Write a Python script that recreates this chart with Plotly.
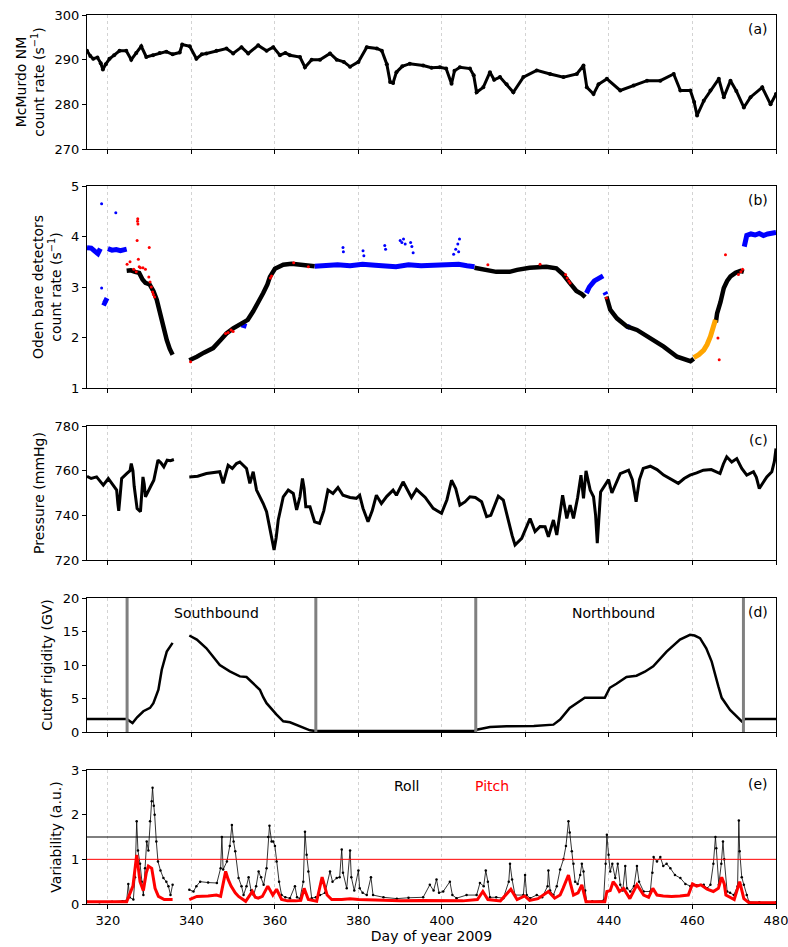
import plotly.graph_objects as go

# ---------------- DATA ----------------
day_ticks = [320, 340, 360, 380, 400, 420, 440, 460, 480]

# (a) McMurdo neutron monitor count rate (s^-1)
nm_points = [(315.0, 292.0), (315.8, 290.8), (316.5, 290.2), (317.5, 290.5), (318.3, 289.2), (318.8, 287.8),
             (319.5, 289.0), (320.4, 290.2), (321.5, 291.0), (322.8, 292.0), (324.4, 292.0), (325.6, 290.0),
             (326.8, 291.5), (328.0, 293.0), (329.2, 290.6), (330.8, 291.0), (332.4, 291.5), (334.0, 291.8),
             (335.5, 291.2), (337.2, 291.6), (337.8, 293.4), (339.6, 293.0), (341.2, 290.2), (342.5, 291.2),
             (343.6, 291.4), (346.0, 292.0), (348.4, 292.5), (350.0, 291.4), (352.0, 292.8), (353.6, 291.4),
             (356.0, 293.2), (358.0, 292.0), (359.6, 292.8), (361.2, 291.0), (362.5, 291.5), (363.6, 291.0),
             (366.0, 290.6), (367.2, 288.3), (368.8, 290.0), (370.8, 290.0), (373.2, 291.4), (374.8, 290.0),
             (376.5, 289.5), (378.0, 288.4), (380.0, 289.5), (382.0, 292.8), (384.4, 292.5), (385.6, 292.0),
             (386.8, 289.0), (387.6, 285.0), (388.3, 284.8), (389.1, 287.2), (390.5, 288.5), (392.3, 289.1),
             (395.5, 288.7), (397.5, 288.2), (399.5, 288.3), (401.0, 288.0), (402.3, 284.6), (403.0, 287.5),
             (404.3, 288.3), (406.7, 288.0), (407.6, 286.5), (408.3, 282.7), (409.9, 283.8), (411.5, 287.2),
             (412.5, 285.5), (413.9, 286.1), (415.5, 284.5), (417.1, 282.7), (419.5, 286.1), (422.7, 287.6),
             (425.9, 286.8), (429.1, 286.1), (432.3, 286.8), (433.9, 288.7), (434.7, 283.8), (436.3, 282.3),
             (437.5, 284.5), (439.5, 285.7), (442.7, 283.1), (445.9, 284.2), (449.1, 285.3), (452.3, 285.3),
             (455.5, 286.8), (457.1, 283.1), (459.5, 283.1), (460.4, 280.5), (461.1, 277.5), (462.7, 280.8),
             (464.3, 283.1), (466.3, 285.7), (467.5, 281.6), (469.1, 285.3), (470.5, 283.0), (472.3, 279.3),
             (473.9, 281.6), (476.7, 283.8), (478.7, 280.0), (480.0, 282.3)]

# (b) Oden bare detectors count rate (s^-1), by colour class
oden_black = [(324.5, 3.32), (325.5, 3.33), (326.5, 3.30), (327.5, 3.28), (328.3, 3.15), (329.0, 3.08),
              (330.0, 3.05), (330.9, 2.92), (331.7, 2.75), (332.5, 2.45), (333.3, 2.15), (334.1, 1.95),
              (334.8, 1.78), (335.5, 1.66), (None, None),
              (339.5, 1.55), (340.5, 1.58), (341.3, 1.62), (343.0, 1.70), (345.2, 1.79), (347.0, 1.95),
              (348.4, 2.08), (350.0, 2.18), (351.6, 2.25), (353.5, 2.35), (354.8, 2.52), (356.0, 2.68),
              (357.2, 2.88), (358.2, 3.05), (358.8, 3.20), (360.0, 3.36), (362.0, 3.44), (364.0, 3.46),
              (366.0, 3.44), (368.0, 3.44), (369.5, 3.41), (None, None),
              (407.8, 3.38), (409.0, 3.36), (411.4, 3.32), (413.0, 3.30), (416.2, 3.30), (418.0, 3.34),
              (421.0, 3.38), (423.4, 3.40), (425.0, 3.40), (427.4, 3.37), (429.0, 3.25), (430.6, 3.08),
              (432.2, 2.92), (433.5, 2.86), (434.3, 2.80), (None, None),
              (439.4, 2.81), (440.3, 2.55), (441.9, 2.38), (444.3, 2.22), (446.7, 2.15), (449.9, 1.99),
              (453.1, 1.82), (456.3, 1.62), (458.0, 1.56), (459.5, 1.53), (460.3, 1.58), (None, None),
              (465.6, 2.30), (465.9, 2.48), (466.7, 2.70), (467.5, 2.98), (468.3, 3.12), (469.1, 3.21),
              (470.3, 3.28), (471.5, 3.32), (472.3, 3.30)]
oden_blue = [(315.0, 3.78), (316.0, 3.77), (317.0, 3.70), (317.6, 3.66), (318.2, 3.76), (None, None),
             (318.7, 2.70), (319.2, 2.68), (319.8, 2.78), (None, None),
             (320.0, 3.76), (321.0, 3.73), (322.0, 3.74), (323.0, 3.72), (324.5, 3.75), (None, None),
             (352.0, 2.25), (353.2, 2.22), (None, None),
             (369.5, 3.41), (372.0, 3.43), (375.0, 3.44), (378.0, 3.42), (381.0, 3.45), (384.0, 3.43),
             (387.0, 3.42), (389.0, 3.40), (392.0, 3.44), (395.0, 3.42), (398.0, 3.43), (401.0, 3.44),
             (404.0, 3.45), (406.0, 3.42), (407.8, 3.40), (None, None),
             (434.6, 2.88), (435.3, 3.00), (436.5, 3.12), (437.5, 3.18), (438.6, 3.22), (None, None),
             (439.0, 2.90), (439.3, 2.85), (None, None),
             (444.3, 2.22), (445.0, 2.20), (None, None),
             (472.4, 3.80), (473.0, 4.02), (474.0, 4.05), (475.0, 4.03), (476.0, 4.06), (477.0, 4.02),
             (478.0, 4.05), (479.0, 4.07), (480.0, 4.08)]
oden_blue_scatter = [(318.5, 4.65), (321.9, 4.47), (318.5, 2.98), (376.3, 3.78), (376.4, 3.70), (381.1, 3.72),
                     (381.3, 3.62), (386.3, 3.82), (386.5, 3.75), (390.0, 3.92), (390.4, 3.88), (390.8, 3.95),
                     (391.2, 3.85), (392.5, 3.88), (392.8, 3.80), (393.1, 3.68), (402.8, 3.65), (403.3, 3.75),
                     (403.8, 3.85), (404.2, 3.95), (404.0, 3.70)]
oden_orange = [(460.3, 1.60), (461.5, 1.66), (462.7, 1.75), (463.5, 1.86), (464.3, 2.02), (465.0, 2.20),
               (465.5, 2.35)]
oden_red = [(324.6, 3.45), (325.3, 3.50), (326.2, 3.35), (326.8, 3.30), (327.0, 3.92), (327.1, 4.30),
            (327.15, 4.35), (327.2, 4.25), (327.3, 3.55), (327.5, 3.40), (327.8, 3.38), (328.4, 3.38),
            (329.0, 3.35), (329.9, 3.78), (329.8, 3.20), (330.1, 3.10), (330.4, 3.00), (330.7, 2.90),
            (330.9, 2.85), (331.2, 2.80), (339.8, 1.52), (348.2, 2.08), (348.8, 2.10), (349.5, 2.15),
            (350.0, 2.12), (358.9, 3.18), (359.2, 3.22), (364.5, 3.48), (368.0, 3.40), (411.0, 3.44),
            (423.5, 3.45), (429.6, 3.25), (430.0, 3.18), (430.4, 3.12), (430.7, 3.08), (439.4, 2.78),
            (466.1, 1.99), (466.4, 1.56), (467.9, 3.64), (471.0, 3.25), (471.6, 3.30), (472.0, 3.35)]

# (c) Pressure (mmHg)
pressure_points = [(315.0, 757.5), (316.0, 756.5), (317.3, 757.2), (318.0, 755.5), (318.9, 753.5), (320.1, 756.5),
                   (321.3, 753.5), (322.1, 751.3), (322.4, 745.0), (322.6, 742.0), (322.9, 748.0), (323.3, 756.5),
                   (324.5, 758.7), (325.3, 760.0), (325.6, 763.2), (326.0, 760.0), (326.3, 753.0), (326.6, 747.6),
                   (327.0, 743.0), (327.8, 741.6), (328.1, 748.0), (328.4, 757.2), (328.7, 754.0), (329.0, 748.3),
                   (330.2, 752.8), (331.0, 755.7), (332.0, 764.7), (332.7, 763.5), (333.4, 761.7), (334.2, 764.7),
                   (335.0, 764.5), (335.8, 765.0), (None, None),
                   (339.5, 757.2), (341.5, 757.5), (343.6, 758.7), (345.5, 759.0), (346.8, 759.5), (347.6, 754.3),
                   (348.8, 762.4), (349.8, 761.0), (350.8, 763.2), (351.6, 763.9), (353.2, 761.0), (354.0, 754.3),
                   (354.8, 759.5), (355.6, 751.3), (356.5, 748.0), (357.2, 745.3), (358.0, 741.6), (358.7, 735.0),
                   (359.2, 729.0), (359.8, 724.5), (360.3, 730.0), (360.8, 737.9), (362.0, 748.3), (363.2, 751.3),
                   (364.4, 749.8), (365.2, 742.4), (366.0, 748.3), (366.6, 756.5), (367.0, 752.0), (367.4, 743.8),
                   (368.4, 743.8), (369.5, 737.1), (370.7, 736.4), (371.7, 742.0), (372.7, 751.3), (373.9, 749.8),
                   (375.1, 752.5), (376.3, 749.0), (378.0, 748.0), (379.5, 747.6), (380.3, 749.0), (381.1, 743.1),
                   (382.3, 737.1), (383.3, 742.0), (384.3, 749.0), (385.5, 745.3), (386.8, 748.5), (388.3, 751.3),
                   (389.1, 749.0), (390.7, 755.0), (392.7, 748.0), (393.9, 751.6), (396.0, 748.0), (397.9, 743.1),
                   (399.9, 740.9), (401.2, 747.0), (402.3, 755.7), (403.3, 752.0), (404.3, 744.6), (405.5, 746.0),
                   (406.7, 748.3), (408.0, 748.0), (409.5, 746.1), (410.7, 739.4), (411.7, 740.0), (413.5, 748.6),
                   (414.7, 746.8), (415.9, 737.1), (416.8, 731.0), (417.5, 726.7), (419.1, 729.7), (421.1, 738.6),
                   (422.3, 732.7), (423.5, 735.0), (424.7, 734.9), (425.5, 730.4), (426.7, 737.9), (427.5, 731.2),
                   (428.3, 742.0), (428.9, 749.0), (429.9, 738.6), (430.7, 744.6), (431.5, 738.6), (432.5, 748.0),
                   (433.3, 758.0), (433.9, 747.6), (434.5, 759.9), (435.5, 751.3), (436.3, 748.3), (436.8, 740.0),
                   (437.2, 727.5), (437.6, 738.0), (438.0, 750.5), (439.9, 756.0), (440.7, 750.0), (442.7, 758.7),
                   (444.7, 760.2), (445.6, 756.0), (446.5, 746.1), (447.3, 756.0), (448.2, 761.0), (449.9, 762.0),
                   (451.5, 760.5), (453.1, 758.0), (455.0, 756.0), (456.6, 754.3), (458.0, 756.5), (459.4, 758.0),
                   (461.0, 759.0), (462.6, 760.2), (464.5, 760.5), (466.6, 758.7), (467.4, 763.0), (468.2, 766.2),
                   (469.4, 763.9), (470.6, 765.4), (471.8, 761.0), (473.0, 758.0), (474.6, 759.5), (475.3, 757.0),
                   (476.0, 752.0), (477.8, 757.2), (479.0, 759.5), (479.6, 764.0), (480.0, 769.9)]

# (d) Cutoff rigidity (GV)
rigidity_points = [(315.0, 1.94), (320.0, 1.94), (324.5, 1.94), (325.9, 1.34), (327.0, 2.2), (328.5, 3.1),
                   (330.1, 3.6), (330.9, 4.3), (331.5, 5.2), (332.1, 6.3), (332.9, 9.3), (333.5, 10.8),
                   (334.1, 12.0), (335.5, 13.3), (None, None),
                   (339.5, 14.4), (341.3, 13.8), (343.6, 12.5), (345.2, 11.2), (346.8, 10.0), (349.2, 9.05),
                   (351.6, 8.3), (353.2, 8.2), (354.8, 7.3), (356.4, 6.3), (357.2, 5.2), (358.0, 4.3),
                   (360.4, 2.6), (362.0, 1.6), (363.6, 1.45), (366.0, 0.85), (368.4, 0.25), (369.7, 0.15),
                   (380.0, 0.15), (390.0, 0.15), (400.0, 0.15), (407.8, 0.15), (408.3, 0.35), (411.5, 0.75),
                   (415.5, 0.85), (422.0, 0.9), (426.7, 1.1), (428.3, 1.85), (430.6, 3.6), (432.5, 4.4),
                   (434.2, 5.1), (439.0, 5.1), (440.2, 6.6), (441.8, 7.2), (443.0, 7.7), (444.2, 8.2),
                   (446.6, 8.4), (448.6, 9.0), (450.6, 9.8), (453.8, 12.0), (457.0, 13.8), (459.4, 14.5),
                   (460.5, 14.4), (461.8, 14.0), (463.3, 12.5), (464.6, 10.5), (466.2, 6.8), (467.0, 5.1),
                   (469.0, 3.3), (470.6, 2.3), (471.8, 1.6), (472.6, 1.95), (476.0, 1.95), (480.0, 1.95)]
leg_boundaries = [324.6, 369.8, 408.1, 472.2]
leg_labels = [("Southbound", 346.0, 17.8), ("Northbound", 441.0, 17.8)]

# (e) Variability (a.u.)
roll_points = [(315, 0.05), (318, 0.04), (321, 0.05), (323.5, 0.06), (324.5, 0.08), (324.9, 0.45), (325.2, 0.15),
               (326.1, 0.10), (326.5, 0.60), (326.9, 1.85), (327.2, 1.2), (327.7, 0.90), (328.1, 0.5), (328.5, 0.20),
               (328.9, 0.8), (329.3, 1.40), (329.7, 1.2), (330.1, 1.85), (330.5, 2.3), (330.7, 2.60), (331.0, 2.2),
               (331.2, 2.00), (331.6, 1.4), (332.0, 0.95), (332.6, 0.75), (333.3, 0.58), (334.0, 0.5), (334.5, 0.40),
               (335.0, 0.2), (335.5, 0.43), (None, None),
               (339.5, 0.32), (340.5, 0.28), (341.2, 0.4), (342.1, 0.50), (344.0, 0.48), (346.1, 0.47), (347.0, 0.8),
               (347.3, 1.5), (347.6, 0.77), (348.5, 0.95), (349.2, 1.3), (349.7, 1.77), (350.1, 1.4), (350.5, 1.18),
               (351.3, 0.58), (352.0, 0.4), (352.5, 0.20), (353.2, 0.4), (353.7, 0.60), (354.3, 0.3), (354.9, 0.20),
               (355.5, 0.4), (356.1, 0.73), (356.7, 0.6), (357.3, 0.43), (358.0, 0.8), (358.4, 1.5), (358.7, 1.75),
               (359.2, 1.4), (359.6, 1.40), (360.0, 1.3), (360.4, 0.95), (361.0, 0.5), (361.6, 0.20), (362.5, 0.15),
               (363.6, 0.13), (364.8, 0.40), (365.3, 0.15), (366.0, 0.12), (366.8, 0.5), (367.2, 1.62), (367.6, 1.1),
               (368.0, 0.73), (368.8, 0.13), (369.8, 0.15), (370.8, 0.20), (372.0, 0.25), (373.2, 0.73), (373.8, 0.5),
               (374.8, 0.58), (375.5, 0.6), (376.0, 1.22), (376.3, 0.7), (377.2, 0.35), (378.0, 1.2), (378.3, 0.6),
               (379.0, 0.3), (380.0, 0.75), (380.3, 0.35), (381.0, 0.25), (382.0, 0.20), (383.0, 0.6), (383.5, 0.2),
               (386.0, 0.15), (389.2, 0.12), (392.0, 0.14), (395.5, 0.15), (397.1, 0.43), (398.0, 0.3), (398.7, 0.55),
               (399.3, 0.25), (400.3, 0.28), (401.9, 0.50), (402.5, 0.2), (403.5, 0.13), (405.9, 0.20), (408.3, 0.20),
               (409.1, 0.47), (410.0, 0.4), (410.5, 0.75), (411.0, 0.5), (411.5, 0.15), (413.0, 0.15), (414.7, 0.13),
               (416.0, 0.5), (416.3, 0.90), (416.8, 0.55), (417.5, 0.20), (419.5, 0.2), (419.9, 0.65), (420.3, 0.2),
               (421.1, 0.13), (422.7, 0.20), (424.0, 0.15), (425.3, 0.4), (425.5, 0.75), (425.9, 0.3), (426.7, 0.20),
               (427.5, 0.4), (428.3, 0.77), (429.1, 1.0), (429.7, 1.3), (430.3, 1.85), (430.6, 1.6), (431.1, 1.18),
               (431.5, 0.9), (431.9, 0.50), (432.5, 0.45), (433.1, 0.65), (433.5, 0.9), (433.9, 0.73), (434.3, 0.3),
               (434.7, 0.05), (436.0, 0.06), (438.7, 0.08), (439.2, 0.9), (439.5, 1.55), (439.9, 1.1), (440.3, 0.73),
               (440.8, 0.9), (441.5, 0.58), (442.1, 0.9), (442.7, 0.43), (443.3, 0.3), (443.9, 0.85), (444.3, 0.35),
               (445.1, 0.28), (446.0, 0.4), (446.7, 0.85), (447.2, 0.5), (448.3, 0.28), (449.9, 0.28), (450.4, 0.7),
               (450.7, 1.05), (451.5, 0.95), (452.3, 1.05), (453.0, 0.85), (453.8, 0.9), (454.7, 0.80), (455.8, 0.65),
               (457.1, 0.58), (458.3, 0.45), (459.5, 0.40), (461.0, 0.42), (462.7, 0.43), (463.5, 0.35), (464.3, 0.43),
               (465.0, 0.9), (465.5, 1.5), (465.7, 1.25), (466.3, 0.43), (466.9, 0.9), (467.3, 1.4), (467.6, 1.0),
               (468.3, 0.28), (469.0, 0.25), (469.9, 0.20), (470.8, 0.4), (471.1, 1.87), (471.3, 1.18), (471.8, 0.6),
               (472.3, 0.43), (473.0, 0.2), (473.5, 0.05), (476.0, 0.04), (480.0, 0.04)]
pitch_points = [(315, 0.05), (320, 0.05), (324.5, 0.05), (325.0, 0.17), (326.0, 0.4), (326.9, 1.10), (327.3, 0.8),
                (327.7, 0.50), (328.5, 0.30), (329.2, 0.7), (329.7, 0.85), (330.5, 0.80), (331.3, 0.35), (332.1, 0.17),
                (333.5, 0.10), (335.5, 0.10), (None, None),
                (339.5, 0.10), (341.3, 0.17), (344.0, 0.18), (346.0, 0.20), (347.0, 0.17), (347.6, 0.45), (348.2, 0.73),
                (348.8, 0.55), (349.5, 0.40), (350.5, 0.25), (351.3, 0.17), (353.0, 0.06), (354.6, 0.28), (355.3, 0.15),
                (356.0, 0.13), (357.0, 0.17), (358.3, 0.40), (359.5, 0.20), (360.4, 0.33), (361.6, 0.10), (363.0, 0.07),
                (365.0, 0.07), (366.2, 0.08), (367.0, 0.35), (368.0, 0.10), (370.0, 0.06), (371.3, 0.60), (372.5, 0.20),
                (373.6, 0.10), (376.0, 0.10), (378.0, 0.12), (380.0, 0.10), (385.0, 0.08), (390.0, 0.07), (395.0, 0.08),
                (400.0, 0.08), (405.0, 0.07), (408.5, 0.10), (409.8, 0.28), (411.0, 0.10), (414.0, 0.07), (416.5, 0.33),
                (418.0, 0.10), (419.8, 0.18), (421.0, 0.08), (423.0, 0.12), (425.5, 0.28), (427.0, 0.13), (428.3, 0.2),
                (429.0, 0.35), (430.3, 0.65), (430.8, 0.45), (431.5, 0.20), (432.6, 0.25), (433.5, 0.43), (434.5, 0.05),
                (439.0, 0.05), (439.5, 0.28), (440.3, 0.3), (441.0, 0.50), (441.8, 0.4), (442.5, 0.28), (443.5, 0.35),
                (445.0, 0.12), (446.7, 0.43), (448.3, 0.20), (449.5, 0.15), (450.5, 0.35), (451.5, 0.20), (453.0, 0.18),
                (455.0, 0.17), (457.0, 0.18), (459.0, 0.20), (460.0, 0.45), (461.0, 0.40), (462.0, 0.43), (463.5, 0.33),
                (465.0, 0.28), (466.2, 0.35), (467.0, 0.60), (467.6, 0.45), (468.0, 0.20), (470.0, 0.10), (471.3, 0.50),
                (472.3, 0.12), (473.5, 0.03), (480.0, 0.03)]
roll_threshold = 1.5
pitch_threshold = 1.0
roll_label = ("Roll", 391.6, 2.64)
pitch_label = ("Pitch", 412.0, 2.64)

panel_letters = ["(a)", "(b)", "(c)", "(d)", "(e)"]
y_titles = ["McMurdo NM<br>count rate (s<sup>\u22121</sup>)",
            "Oden bare detectors<br>count rate (s<sup>\u22121</sup>)",
            "Pressure (mmHg)", "Cutoff rigidity (GV)", "Variability (a.u.)"]
y_ranges = [(270, 300), (1, 5), (720, 780), (0, 20), (0, 3)]
y_tickvals = [[270, 280, 290, 300], [1, 2, 3, 4, 5], [720, 740, 760, 780], [0, 5, 10, 15, 20], [0, 1, 2, 3]]

# ---------------- FIGURE ----------------
def xy(points):
    return [p[0] for p in points], [p[1] for p in points]

W, H = 788, 947
ML, MR, MT, MB = 87, 12, 15, 43
plot_h = H - MT - MB
# panel pixel extents (top, bottom)
panel_px = [(15, 149), (186, 388), (426, 560), (598, 732), (770, 904)]
domains = [[(H - MB - b) / plot_h, (H - MB - t) / plot_h] for t, b in panel_px]

FONT = "DejaVu Sans"
fig = go.Figure()

def add(points, row, **kw):
    x, y = xy(points)
    fig.add_trace(go.Scatter(x=x, y=y, xaxis=f"x{row}" if row > 1 else "x",
                             yaxis=f"y{row}" if row > 1 else "y", showlegend=False,
                             hoverinfo="skip", **kw))

add(nm_points, 1, mode="lines+markers", line=dict(color="black", width=3),
    marker=dict(color="black", size=4))
add(oden_blue, 2, mode="lines", line=dict(color="blue", width=5), connectgaps=False)
add(oden_blue_scatter, 2, mode="markers", marker=dict(color="blue", size=3))
add(oden_black, 2, mode="lines", line=dict(color="black", width=4.5), connectgaps=False)
add(oden_orange, 2, mode="lines", line=dict(color="orange", width=5))
add(oden_red, 2, mode="markers", marker=dict(color="red", size=3))
add(pressure_points, 3, mode="lines", line=dict(color="black", width=3), connectgaps=False)
add(rigidity_points, 4, mode="lines", line=dict(color="black", width=2.5), connectgaps=False)
add(roll_points, 5, mode="lines+markers", line=dict(color="black", width=0.8),
    marker=dict(color="black", size=2.5), connectgaps=False)
add(pitch_points, 5, mode="lines", line=dict(color="red", width=3), connectgaps=False)

axis_common = dict(showline=True, mirror=True, linecolor="black", linewidth=1, ticks="outside",
                   ticklen=4, tickcolor="black", tickfont=dict(family=FONT, size=13, color="black"),
                   zeroline=False, automargin=False)
layout = dict(width=W, height=H, margin=dict(l=ML, r=MR, t=MT, b=MB, autoexpand=False),
              plot_bgcolor="white", paper_bgcolor="white",
              font=dict(family=FONT, size=13, color="black"))
for i in range(5):
    row = i + 1
    xa = "xaxis" if row == 1 else f"xaxis{row}"
    ya = "yaxis" if row == 1 else f"yaxis{row}"
    yref = "y" if row == 1 else f"y{row}"
    layout[xa] = dict(axis_common, range=[315, 480], tickvals=day_ticks, anchor=yref,
                      showticklabels=(row == 5), showgrid=True, gridcolor="#d3d3d3", griddash="dot",
                      gridwidth=1, domain=[0, 1], ticklabeloverflow="allow")
    if row > 1:
        layout[xa]["matches"] = "x"
    layout[ya] = dict(axis_common, range=list(y_ranges[i]), tickvals=y_tickvals[i],
                      domain=domains[i], showgrid=False, anchor="x" if row == 1 else f"x{row}",
                      ticklabeloverflow="allow",
                      title=dict(text=y_titles[i], font=dict(family=FONT, size=14), standoff=6))
layout["xaxis5"]["title"] = dict(text="Day of year 2009", font=dict(family=FONT, size=14), standoff=4)
fig.update_layout(**layout)

shapes = []
for xb in leg_boundaries:
    shapes.append(dict(type="line", xref="x4", yref="y4 domain", x0=xb, x1=xb, y0=0, y1=1,
                       line=dict(color="#808080", width=3)))
shapes.append(dict(type="line", xref="x5 domain", yref="y5", x0=0, x1=1, y0=roll_threshold,
                   y1=roll_threshold, line=dict(color="black", width=1)))
shapes.append(dict(type="line", xref="x5 domain", yref="y5", x0=0, x1=1, y0=pitch_threshold,
                   y1=pitch_threshold, line=dict(color="red", width=1)))
fig.update_layout(shapes=shapes)

annotations = []
for i, letter in enumerate(panel_letters):
    annotations.append(dict(text=letter, xref="paper", yref="paper", x=0.992, y=domains[i][1] - 0.004,
                            xanchor="right", yanchor="top", showarrow=False,
                            font=dict(family=FONT, size=14, color="black")))
for text, xv, yv in leg_labels:
    annotations.append(dict(text=text, xref="x4", yref="y4", x=xv, y=yv, showarrow=False,
                            font=dict(family=FONT, size=14, color="black")))
annotations.append(dict(text=roll_label[0], xref="x5", yref="y5", x=roll_label[1], y=roll_label[2],
                        showarrow=False, font=dict(family=FONT, size=14, color="black")))
annotations.append(dict(text=pitch_label[0], xref="x5", yref="y5", x=pitch_label[1], y=pitch_label[2],
                        showarrow=False, font=dict(family=FONT, size=14, color="red")))
fig.update_layout(annotations=annotations)

fig.write_html("out.html")
